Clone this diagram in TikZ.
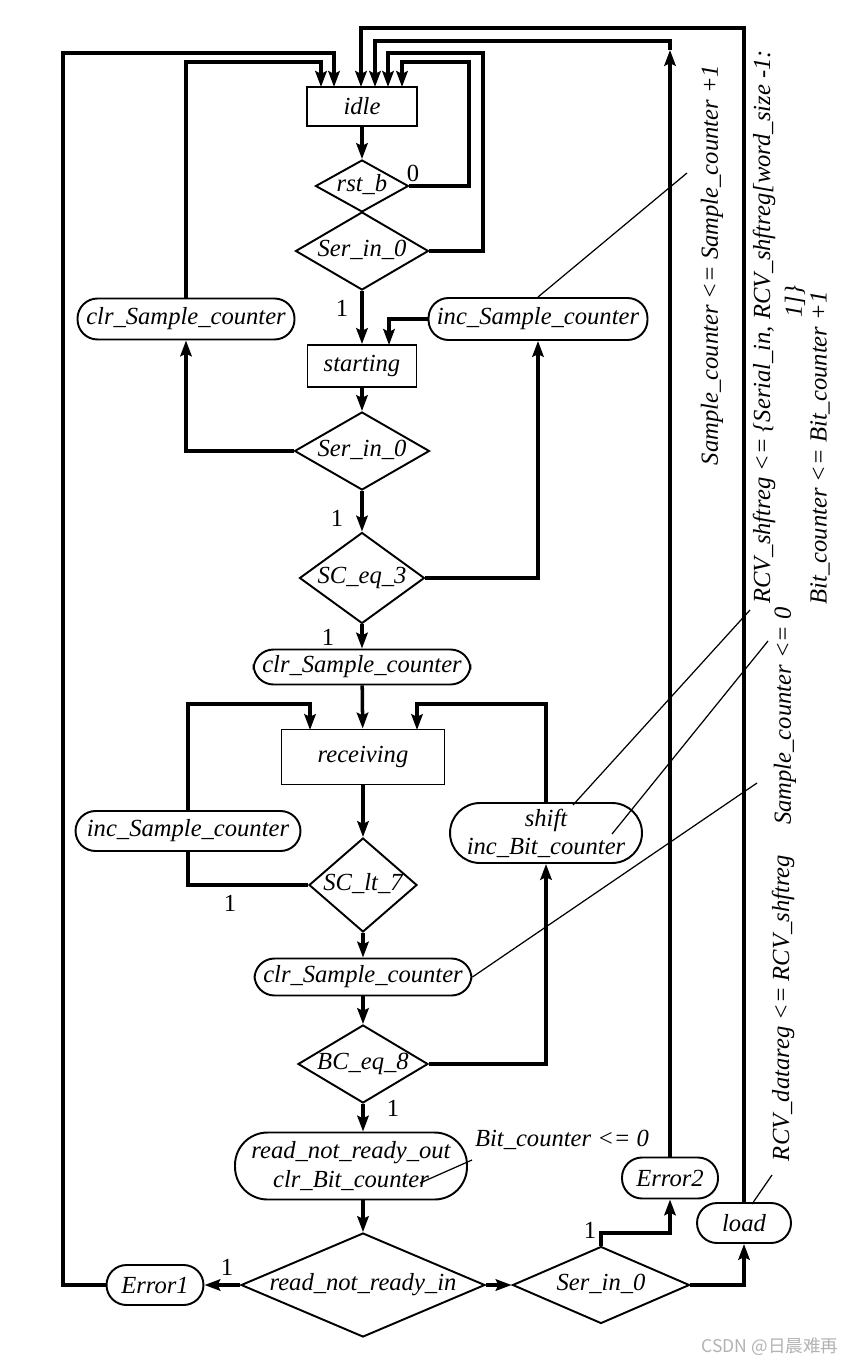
\documentclass[tikz,border=0pt]{standalone}
\usepackage{fontspec}
\setmainfont{Liberation Serif}
\newfontfamily\cjkfont{Noto Sans CJK SC}
\usetikzlibrary{arrows.meta,shapes.geometric}
\newcommand{\dtext}[1]{\makebox[0pt]{\raisebox{-.5ex}[0pt][0pt]{#1}}}

\begin{document}
\begin{tikzpicture}[x=0.02cm,y=-0.02cm,
    font=\fontsize{14}{16}\selectfont\itshape,
    >={Stealth[length=9pt,width=6.5pt,inset=1.5pt]},
    state/.style={draw,line width=1.1pt,inner sep=1pt},
    act/.style={draw,line width=1.1pt,rounded corners=0.4cm,inner sep=1pt,align=center},
    test/.style={diamond,draw,line width=1.1pt,inner sep=0pt},
    flow/.style={line width=2pt},
    note/.style={line width=0.7pt},
    num/.style={font=\fontsize{14}{16}\selectfont\upshape}]
    \useasboundingbox (0,0) rectangle (852,1364);

    % states, tests and actions
    \node[state,minimum width=2.2cm,minimum height=0.78cm] (idle) at (362,106.5) {idle};
    \node[test,minimum width=1.86cm,minimum height=1.04cm] (rst) at (362,186) {\dtext{rst\_b}};
    \node[test,minimum width=2.66cm,minimum height=1.56cm] (ser1) at (362,251) {\dtext{Ser\_in\_0}};
    \node[act,minimum width=4.34cm,minimum height=0.82cm] (clrA) at (186,319) {clr\_Sample\_counter};
    \node[act,minimum width=4.38cm,minimum height=0.84cm] (incSR) at (538,319) {inc\_Sample\_counter};
    \node[state,minimum width=2.18cm,minimum height=0.84cm] (start) at (362,366) {starting};
    \node[test,minimum width=2.7cm,minimum height=1.56cm] (ser2) at (362,451) {\dtext{Ser\_in\_0}};
    \node[test,minimum width=2.5cm,minimum height=1.82cm] (sceq) at (362,578) {\dtext{SC\_eq\_3}};
    \node[act,minimum width=4.34cm,minimum height=0.7cm] (clrB) at (362,667) {clr\_Sample\_counter};
    \node[state,minimum width=3.26cm,minimum height=1.1cm] (recv) at (363,757) {receiving};
    \node[act,minimum width=4.5cm,minimum height=0.8cm] (incSL) at (188,831) {inc\_Sample\_counter};
    \node[act,rounded corners=0.6cm,minimum width=3.84cm,minimum height=1.2cm] (shift) at (546,833) {shift\\inc\_Bit\_counter};
    \node[test,minimum width=2.16cm,minimum height=1.88cm] (sclt) at (363,885) {\dtext{SC\_lt\_7}};
    \node[act,minimum width=4.34cm,minimum height=0.74cm] (clrC) at (363,977) {clr\_Sample\_counter};
    \node[test,minimum width=2.6cm,minimum height=1.56cm] (bceq) at (363,1064) {\dtext{BC\_eq\_8}};
    \node[act,rounded corners=0.65cm,minimum width=4.64cm,minimum height=1.34cm] (rdy) at (351,1166) {read\_not\_ready\_out\\clr\_Bit\_counter};
    \node[test,minimum width=4.88cm,minimum height=2.08cm] (rnrin) at (363,1285) {\dtext{read\_not\_ready\_in}};
    \node[act,minimum width=1.94cm,minimum height=0.8cm] (err1) at (155,1285) {Error1};
    \node[test,minimum width=3.54cm,minimum height=1.54cm] (ser3) at (601,1285) {\dtext{Ser\_in\_0}};
    \node[act,minimum width=1.92cm,minimum height=0.82cm] (err2) at (670,1178) {Error2};
    \node[act,minimum width=1.88cm,minimum height=0.8cm] (load) at (744,1223) {load};

    % entry points and bends
    \coordinate (in1) at (321,87);
    \coordinate (in2) at (334,87);
    \coordinate (in3) at (361,87);
    \coordinate (in4) at (375,87);
    \coordinate (in5) at (388,87);
    \coordinate (in6) at (402,87);
    \coordinate (c1) at (321,62);
    \coordinate (c2) at (63,53);
    \coordinate (c3) at (361,28);
    \coordinate (c4) at (375,41);
    \coordinate (c5) at (483,53);
    \coordinate (c6) at (469,62);
    \coordinate (c7) at (601,1233);
    \coordinate (e2tip) at (670,50);
    \coordinate (sin2) at (389,345);
    \coordinate (rc1) at (310,704);
    \coordinate (rin1) at (310,730);
    \coordinate (rc2) at (417,704);
    \coordinate (rin2) at (417,730);

    \path[flow,->] (idle) edge (rst);
    \path[flow,->] (ser1) edge (start);
    \path[flow,->] (start) edge (ser2);
    \path[flow,->] (ser2) edge (sceq);
    \path[flow,->] (sceq) edge (clrB);
    \path[flow,->] (clrB) edge (recv);
    \path[flow,->] (recv) edge (sclt);
    \path[flow,->] (sclt) edge (clrC);
    \path[flow,->] (clrC) edge (bceq);
    \path[flow,->] (bceq.south) edge (bceq.south |- rdy.north);
    \path[flow,->] (rnrin.north |- rdy.south) edge (rnrin.north);
    \path[flow,->] (rnrin) edge (err1);
    \path[flow,->] (rnrin) edge (ser3);

    \draw[flow,->] (rst.east) -| (c6) -| (in6);
    \draw[flow,->] (ser1.east) -| (c5) -| (in5);
    \draw[flow,->] (clrA.north) |- (c1) -- (in1);
    \draw[flow,->] (err1.west) -| (c2) -| (in2);
    \draw[flow,->] (load.north) |- (c3) -- (in3);
    \draw[flow,->] (err2.north) -- (e2tip);
    \draw[flow,->] (e2tip) |- (c4) -- (in4);
    \draw[flow,->] (ser2.west) -| (clrA.south);
    \draw[flow,->] (incSR.west) -| (sin2);
    \draw[flow,->] (sceq.east) -| (incSR.south);
    \draw[flow,->] (incSL.north) |- (rc1) -- (rin1);
    \draw[flow,->] (shift.north) |- (rc2) -- (rin2);
    \draw[flow] (sclt.west) -| (incSL.south);
    \draw[flow,->] (bceq.east) -| (shift.south);
    \draw[flow,->] (ser3.north) -- (c7) -| (err2.south);
    \draw[flow,->] (ser3.east) -| (load.south);

    \node[num] (n0) at (413,173) {0};
    \node[num] (n1) at (342,308) {1};
    \node[num] (n2) at (337,518) {1};
    \node[num] (n3) at (328,637) {1};
    \node[num] (n4) at (230,903) {1};
    \node[num] (n5) at (393,1108) {1};
    \node[num] (n6) at (227,1267) {1};
    \node[num] (n7) at (590,1230) {1};

    % register transfers
    \node[rotate=90] (t1) at (712,265) {Sample\_counter <= Sample\_counter +1};
    \node[rotate=90] (t2) at (764,327) {RCV\_shftreg <= \{Serial\_in, RCV\_shftreg[word\_size -1:};
    \node[rotate=90] (t3) at (795,302) {1]\}};
    \node[rotate=90] (t4) at (820,448) {Bit\_counter <= Bit\_counter +1};
    \node[rotate=90] (t5) at (785,716) {Sample\_counter <= 0};
    \node[rotate=90] (t6) at (783,1008) {RCV\_datareg <= RCV\_shftreg};
    \node (t7) at (562,1140) {Bit\_counter <= 0};

    \coordinate (a1) at (687,173);
    \coordinate (b2) at (573,805);
    \coordinate (a2) at (750,610);
    \coordinate (b3) at (612,834);
    \coordinate (a3) at (768,641);
    \coordinate (a4) at (757,783);
    \coordinate (b5) at (752,1204);
    \coordinate (a5) at (772,1175);
    \coordinate (b6) at (420,1183);
    \coordinate (a6) at (472,1160);
    \draw[note] (incSR.north) -- (a1);
    \draw[note] (b2) -- (a2);
    \draw[note] (b3) -- (a3);
    \draw[note] (clrC.east) -- (a4);
    \draw[note] (b5) -- (a5);
    \draw[note] (b6) -- (a6);

    \node[text=gray!60,font=\cjkfont\fontsize{10}{12}\selectfont] (mark) at (770,1347) {CSDN @日晨难再};
\end{tikzpicture}
\end{document}
